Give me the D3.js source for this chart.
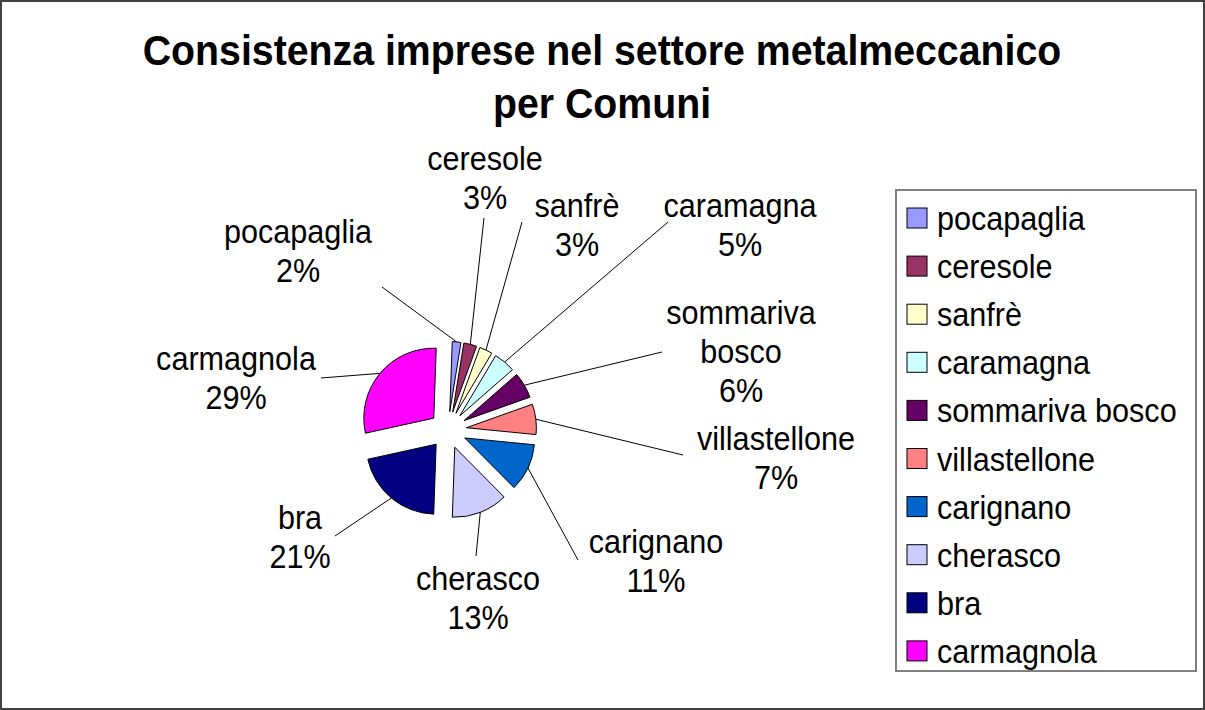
<!DOCTYPE html>
<html>
<head>
<meta charset="utf-8">
<script src="https://cdn.jsdelivr.net/npm/d3@7"></script>
<style>
  body { margin: 0; background: #fff; }
  svg { display: block; font-family: "Liberation Sans", Arial, sans-serif; }
</style>
</head>
<body>
<div id="chart"></div>
<script>
// data
var comuni = ["pocapaglia", "ceresole", "sanfrè", "caramagna", "sommariva bosco",
    "villastellone", "carignano", "cherasco", "bra", "carmagnola"];
var percent = [2, 3, 3, 5, 6, 7, 11, 13, 21, 29];
var colors = ["#9999FF", "#993366", "#FFFFCC", "#CCFFFF", "#660066",
    "#FF8080", "#0066CC", "#CCCCFF", "#000080", "#FF00FF"];

// label layout (text centre, leader line end)
var labelPos = [[298, 233], [485, 160], [577, 207], [740, 207], [741, 314],
    [776, 440], [656, 543], [478, 580], [300, 519], [236, 360]];
var leaderEnd = [[382, 287], [484, 218], [522, 222], [668, 222], [662, 352],
    [683, 455], [578, 560], [476, 556], [335, 536], [321, 378]];

var width = 1205, height = 710;
var cx = 448, cy = 430, radius = 70, explode = 18.5;
var textScale = 0.9;

var svg = d3.select("#chart").append("svg")
    .attr("width", width)
    .attr("height", height);

// outer frame
svg.append("rect")
    .attr("x", 1).attr("y", 1)
    .attr("width", width - 2).attr("height", height - 2)
    .attr("fill", "#fff")
    .attr("stroke", "#404040")
    .attr("stroke-width", 2);

// title
var title = svg.append("g")
    .attr("transform", "translate(602,0) scale(0.935,1)");
title.selectAll("text")
    .data(["Consistenza imprese nel settore metalmeccanico", "per Comuni"])
    .enter().append("text")
    .attr("x", 0)
    .attr("y", function (d, i) { return 65 + i * 53; })
    .attr("text-anchor", "middle")
    .style("font-size", "42px")
    .style("font-weight", "700")
    .text(function (d) { return d; });

// pie
var start = 2 * Math.PI / 180;
var pie = d3.pie()
    .sort(null)
    .startAngle(start)
    .endAngle(start + 2 * Math.PI);
var arc = d3.arc().innerRadius(0).outerRadius(radius);
var slices = pie(percent);

function mid(d) { return (d.startAngle + d.endAngle) / 2; }

svg.append("g")
    .selectAll("path")
    .data(slices)
    .enter().append("path")
    .attr("transform", function (d) {
        var a = mid(d);
        return "translate(" + (cx + explode * Math.sin(a)) + "," + (cy - explode * Math.cos(a)) + ")";
    })
    .attr("d", arc)
    .attr("fill", function (d, i) { return colors[i]; })
    .attr("stroke", "#000")
    .attr("stroke-width", 1);

// leader lines
svg.append("g")
    .selectAll("line")
    .data(slices)
    .enter().append("line")
    .attr("x1", function (d) { return cx + (explode + radius) * Math.sin(mid(d)); })
    .attr("y1", function (d) { return cy - (explode + radius) * Math.cos(mid(d)); })
    .attr("x2", function (d, i) { return leaderEnd[i][0]; })
    .attr("y2", function (d, i) { return leaderEnd[i][1]; })
    .attr("stroke", "#000")
    .attr("stroke-width", 1);

// data labels
var labels = svg.append("g")
    .selectAll("g")
    .data(slices)
    .enter().append("g")
    .attr("transform", function (d, i) {
        return "translate(" + labelPos[i][0] + "," + labelPos[i][1] + ") scale(" + textScale + ",1)";
    });
labels.each(function (d, i) {
    var lines = comuni[i].split(" ").concat([percent[i] + "%"]);
    d3.select(this).selectAll("text")
        .data(lines)
        .enter().append("text")
        .attr("x", 0)
        .attr("y", function (t, j) { return 10 + j * 39; })
        .attr("text-anchor", "middle")
        .style("font-size", "34px")
        .text(function (t) { return t; });
});

// legend
var legend = svg.append("g");
legend.append("rect")
    .attr("x", 896).attr("y", 190)
    .attr("width", 300).attr("height", 481)
    .attr("fill", "#fff")
    .attr("stroke", "#808080")
    .attr("stroke-width", 2);

var item = legend.selectAll(".item")
    .data(comuni)
    .enter().append("g")
    .attr("class", "item")
    .attr("transform", function (d, i) { return "translate(907," + (218 + i * 48.1) + ")"; });
item.append("rect")
    .attr("x", 0).attr("y", -10)
    .attr("width", 20).attr("height", 20)
    .attr("fill", function (d, i) { return colors[i]; })
    .attr("stroke", "#000")
    .attr("stroke-width", 1);
item.append("text")
    .attr("transform", "translate(30,12) scale(" + textScale + ",1)")
    .style("font-size", "34px")
    .text(function (d) { return d; });
</script>
</body>
</html>
